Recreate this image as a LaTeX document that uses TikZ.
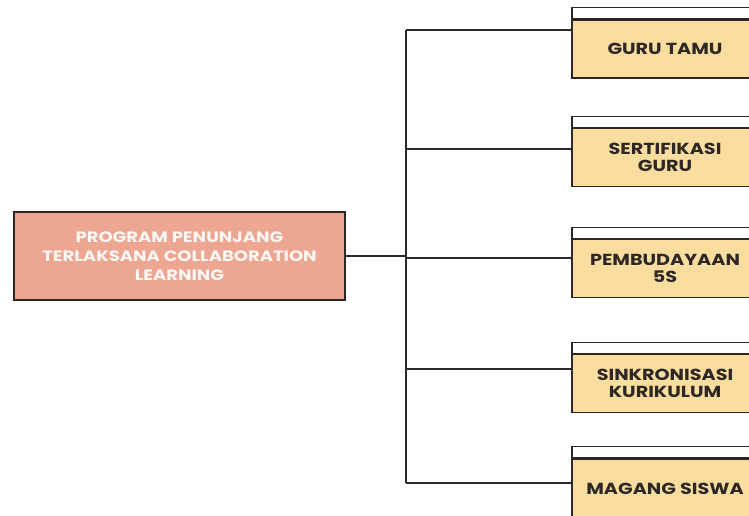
\documentclass[tikz,border=0pt]{standalone}
\usepackage{fontspec}
\setmainfont{Poppins}
\newfontfamily\progfont{Poppins}[FakeStretch=1.2]
\newfontfamily\kegfont{Poppins}[FakeStretch=1.2]
\usetikzlibrary{positioning,calc}
\definecolor{salmon}{RGB}{236,166,146}
\definecolor{cream}{RGB}{252,221,160}
\definecolor{ink}{RGB}{45,40,38}

\begin{document}
\begin{tikzpicture}[x=1pt,y=-1pt,
    prog/.style={draw=ink,line width=1.3pt,fill=salmon,minimum width=331pt,minimum height=88pt,align=center,font=\progfont\fontsize{15}{19}\selectfont\bfseries,text=white!92!salmon},
    kegiatan/.style={draw=ink,line width=1.3pt,fill=cream,minimum width=186pt,minimum height=58pt,align=center,font=\kegfont\fontsize{16}{17.5}\selectfont\bfseries,text=ink,inner sep=0pt},
    strip/.style={draw=ink,line width=1.3pt,fill=white,minimum width=186pt,minimum height=11pt,inner sep=0pt},
    garis/.style={draw=ink,line width=1.4pt}]
    \useasboundingbox (0,0) rectangle (749,515);
    \clip (0,0) rectangle (749,515);
    \fill[white] (0,0) rectangle (749,515);

    \node[prog] (prog) at (179.5,256) {PROGRAM PENUNJANG\\TERLAKSANA COLLABORATION\\LEARNING};

    \node[kegiatan] (k1) at (665,49) {GURU TAMU};
    \node[kegiatan] (k2) at (665,157.5) {SERTIFIKASI\\GURU};
    \node[kegiatan] (k3) at (665,268.5) {PEMBUDAYAAN\\5S};
    \node[kegiatan] (k4) at (665,383.5) {SINKRONISASI\\KURIKULUM};
    \node[kegiatan,minimum height=60pt] (k5) at (665,489) {MAGANG SISWA};

    \node[strip,above=0pt of k1] (s1) {};
    \node[strip,above=0pt of k2] (s2) {};
    \node[strip,above=0pt of k3] (s3) {};
    \node[strip,above=0pt of k4] (s4) {};
    \node[strip,above=0pt of k5] (s5) {};

    \coordinate (j1) at (406,30);
    \coordinate (j2) at (406,149);
    \coordinate (j3) at (406,258);
    \coordinate (j4) at (406,369);
    \coordinate (j5) at (406,483);

    \draw[garis] (j1) -- (j5);
    \draw[garis] (prog.east) -- (prog.east -| j3);
    \draw[garis] (j1) -- (j1 -| k1.west);
    \draw[garis] (j2) -- (j2 -| k2.west);
    \draw[garis] (j3) -- (j3 -| k3.west);
    \draw[garis] (j4) -- (j4 -| k4.west);
    \draw[garis] (j5) -- (j5 -| k5.west);
\end{tikzpicture}
\end{document}
